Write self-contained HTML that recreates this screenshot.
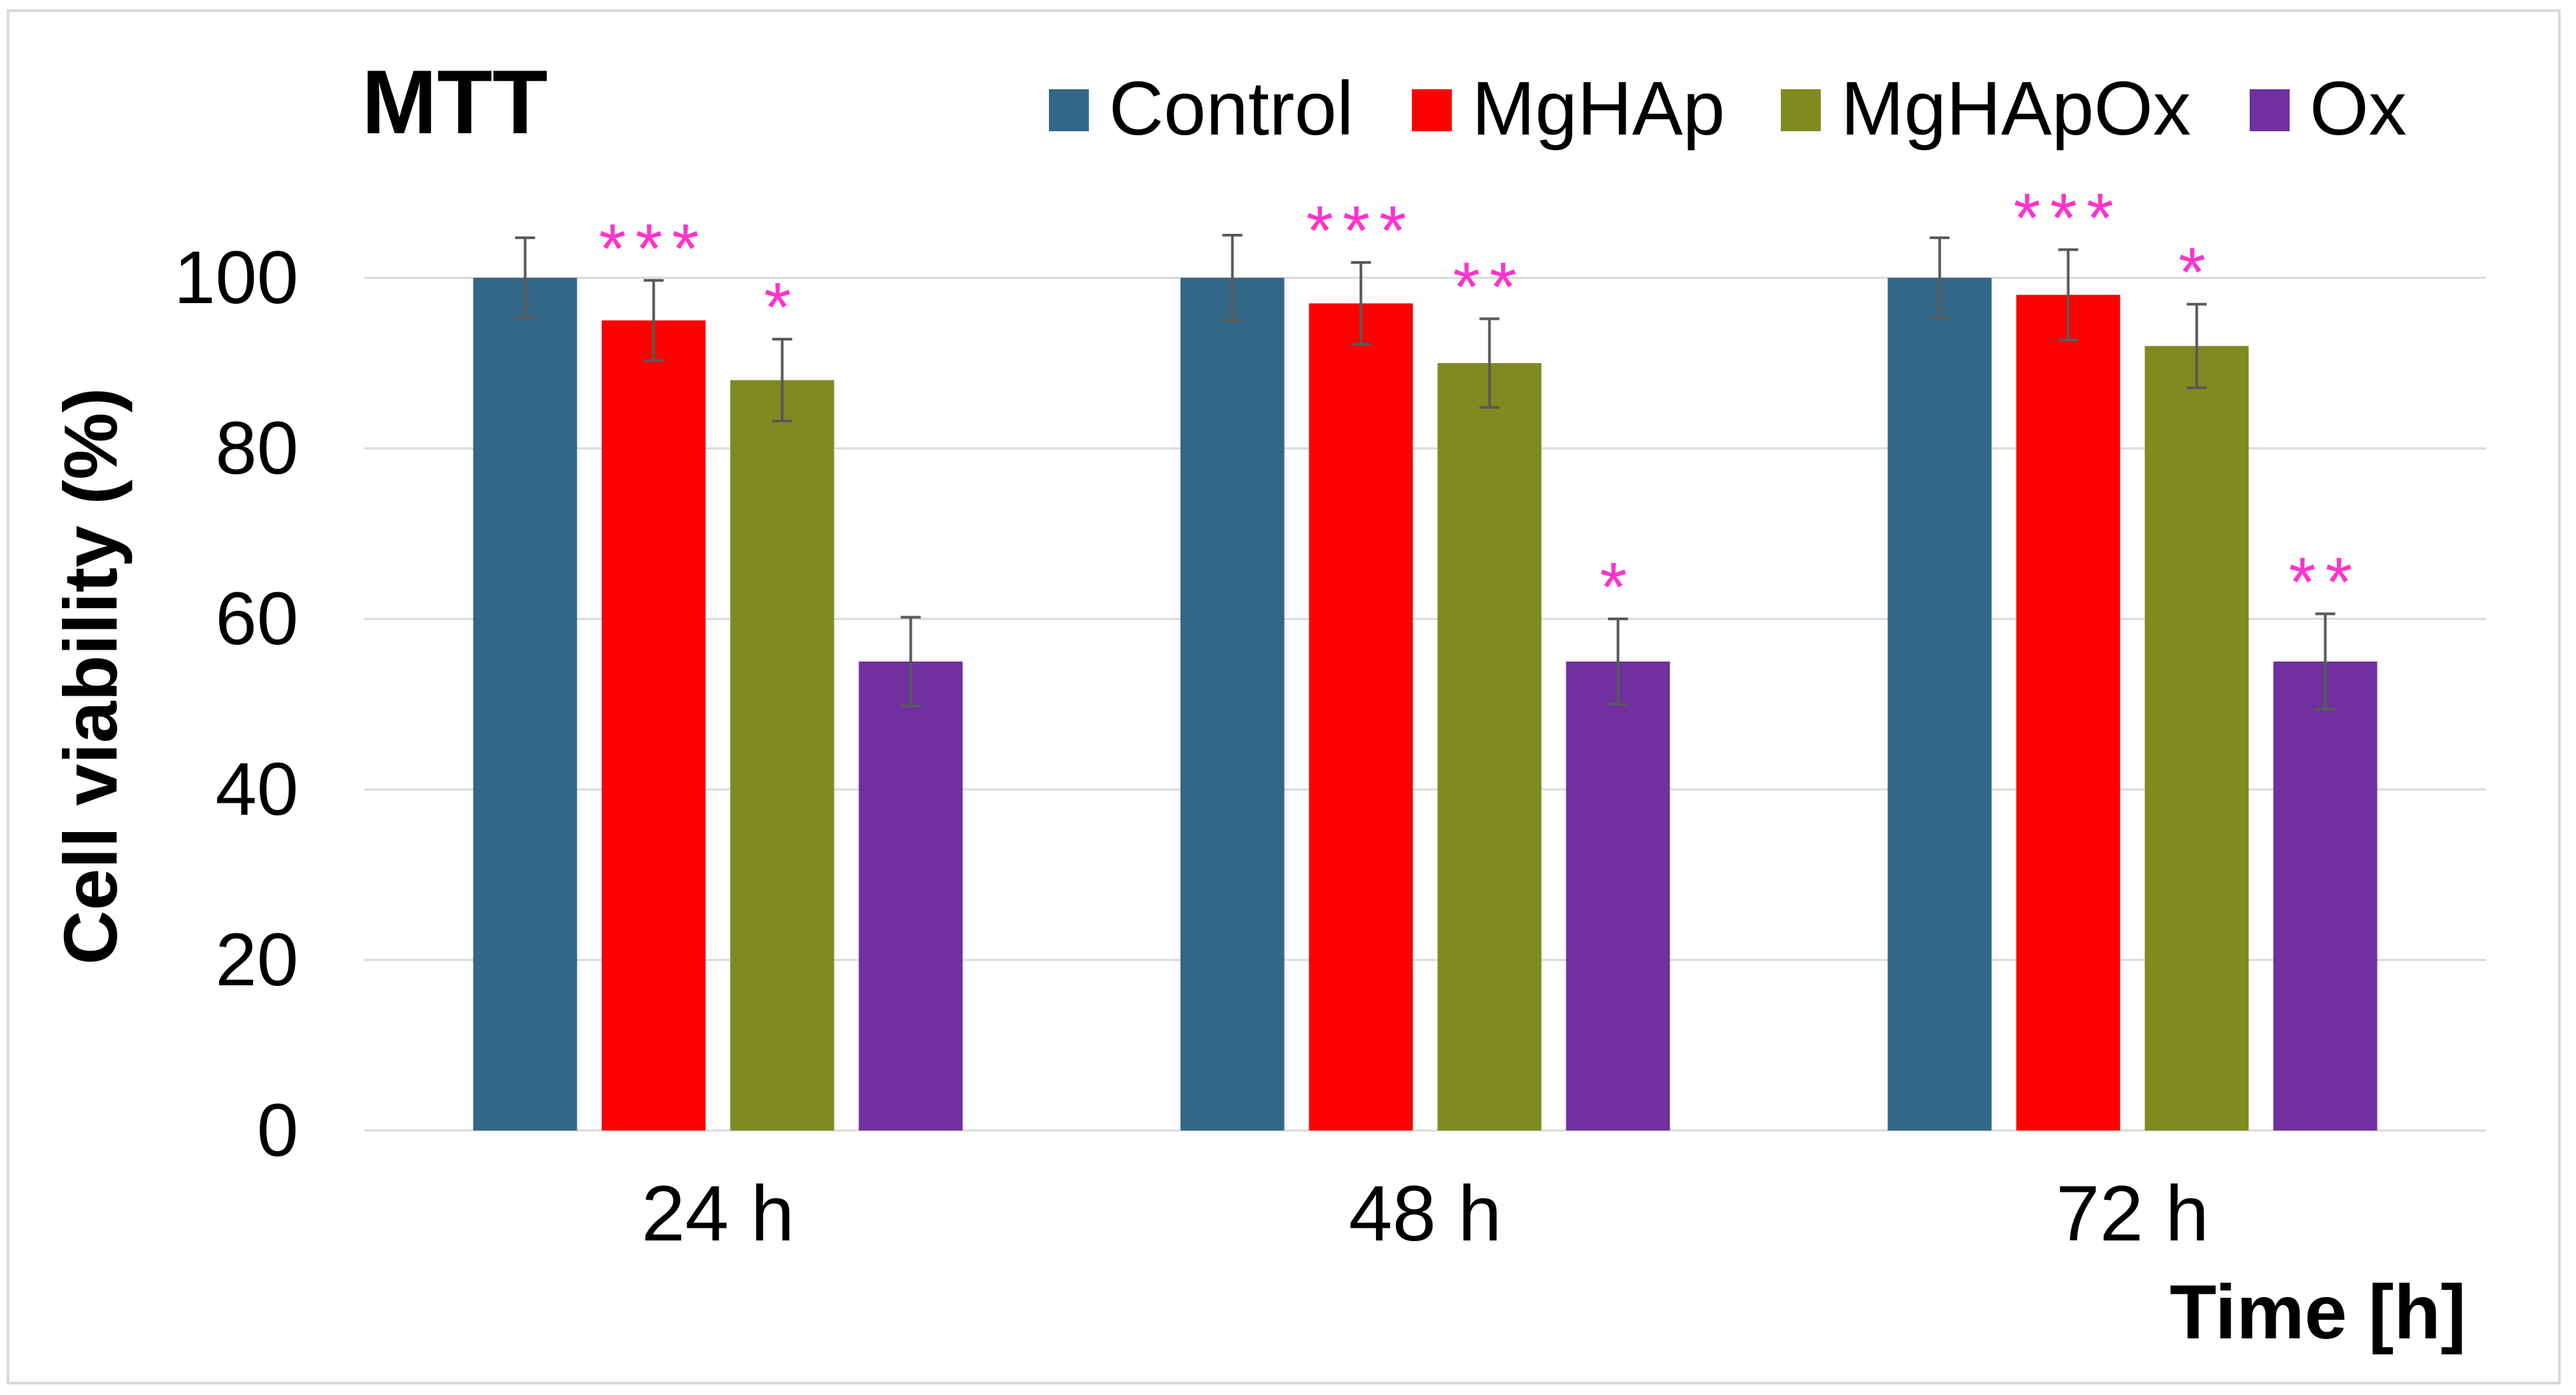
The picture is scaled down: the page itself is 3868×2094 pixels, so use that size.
<!DOCTYPE html>
<html><head><meta charset="utf-8"><style>
html,body{margin:0;padding:0;background:#fff;}
svg{display:block;font-family:"Liberation Sans",Arial,sans-serif;}
</style></head><body>
<svg id="chart" width="3868" height="2094" viewBox="0 0 3868 2094" xmlns="http://www.w3.org/2000/svg">
<rect x="12" y="16" width="3831" height="2060" fill="#fff" stroke="#d9d9d9" stroke-width="4"/>
<text x="543" y="200" font-size="136" font-weight="bold" fill="#000">MTT</text>
<g id="grid"></g>
<g id="yticks"></g>
<g id="bars"></g>
<g id="xticks"></g>
<g id="legend"></g>
<text transform="translate(175,1015) rotate(-90)" text-anchor="middle" font-size="113" font-weight="bold" fill="#000">Cell viability (%)</text>
<text x="3703" y="2009" text-anchor="end" font-size="115" font-weight="bold" fill="#000">Time [h]</text>
</svg>
<script>
const categories = ["24 h", "48 h", "72 h"];
const seriesNames = ["Control", "MgHAp", "MgHApOx", "Ox"];
const controlValues = [100, 100, 100];
const mghapValues = [95, 97, 98];
const mghapoxValues = [88, 90, 92];
const oxValues = [55, 55, 55];
const controlErrors = [4.7, 5, 4.7];
const mghapErrors = [4.7, 4.8, 5.3];
const mghapoxErrors = [4.8, 5.2, 4.9];
const oxErrors = [5.2, 5, 5.6];
const controlSig = ["", "", ""];
const mghapSig = ["***", "***", "***"];
const mghapoxSig = ["*", "**", "*"];
const oxSig = ["", "*", "**"];
const yTicks = [0, 20, 40, 60, 80, 100];

const colors = ["#336787", "#ff0000", "#7f8a20", "#7030a0"];
const series = [controlValues, mghapValues, mghapoxValues, oxValues];
const errs = [controlErrors, mghapErrors, mghapoxErrors, oxErrors];
const sigs = [controlSig, mghapSig, mghapoxSig, oxSig];
const NS = "http://www.w3.org/2000/svg";
const plotL = 547, plotR = 3733, y0 = 1697, y100 = 417;
const yScale = v => y0 - (v / 100) * (y0 - y100);
const groupW = (plotR - plotL) / categories.length;
const xCenter = i => plotL + groupW * (i + 0.5);
const barW = 156, step = 193;
function mk(tag, attrs, parent){const e=document.createElementNS(NS,tag);for(const k in attrs)e.setAttribute(k,attrs[k]);parent.appendChild(e);return e;}

const grid = document.getElementById('grid');
const yt = document.getElementById('yticks');
yTicks.forEach(t => {
  const l = mk('line', {x1: plotL, x2: plotR, y1: yScale(t), y2: yScale(t), stroke: '#d9d9d9', 'stroke-width': 3}, grid);
  
  
  const tx = mk('text', {x: 448, y: yScale(t) + 38, 'text-anchor': 'end', 'font-size': 112, fill: '#000'}, yt);
  tx.textContent = t;
  
  
});

const bars = document.getElementById('bars');
categories.forEach((c, i) => {
  series.forEach((s, j) => {
    const cx = xCenter(i) + (j - 1.5) * step;
    const v = s[i];
    const r = mk('rect', {x: cx - barW / 2, y: yScale(v), width: barW, height: y0 - yScale(v), fill: colors[j]}, bars);
    
    
    const e = errs[j][i];
    const g = mk('g', {stroke: '#595959', 'stroke-width': 4}, bars);
    
    
    mk('line', {x1: cx, x2: cx, y1: yScale(v + e), y2: yScale(v - e)}, g);
    mk('line', {x1: cx - 15, x2: cx + 15, y1: yScale(v + e), y2: yScale(v + e)}, g);
    mk('line', {x1: cx - 15, x2: cx + 15, y1: yScale(v - e), y2: yScale(v - e)}, g);
    if (sigs[j][i]) {
      const st = mk('text', {x: cx, y: yScale(v + e) - 12, 'text-anchor': 'middle', 'font-size': 105, fill: '#ff33cc', 'letter-spacing': 14}, bars);
      st.textContent = sigs[j][i];
      
      
    }
  });
  const xl = mk('text', {x: xCenter(i), y: 1862, 'text-anchor': 'middle', 'font-size': 118, fill: '#000'}, document.getElementById('xticks'));
  xl.textContent = c;
  
  
});

const legend = document.getElementById('legend');
const legX = [1575, 2120, 2674, 3378];
seriesNames.forEach((n, j) => {
  const g = mk('g', {}, legend);
  
  
  mk('rect', {x: legX[j], y: 134, width: 60, height: 63, fill: colors[j]}, g);
  const t = mk('text', {x: legX[j] + 90, y: 202, 'font-size': 114, fill: '#000'}, g);
  t.textContent = n;
});
</script>
</body></html>
